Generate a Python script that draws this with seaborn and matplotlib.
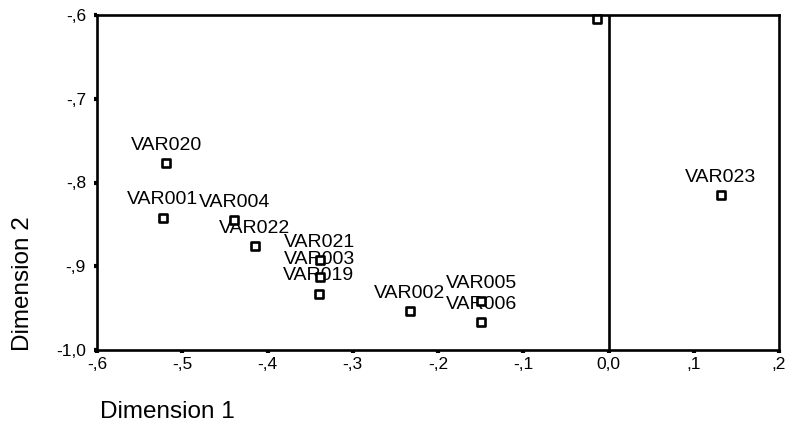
import matplotlib
matplotlib.use("Agg")
import matplotlib.pyplot as plt
import seaborn as sns
import pandas as pd
from matplotlib.ticker import FuncFormatter

# Object points in the two-dimensional solution
labels = ["VAR020", "VAR001", "VAR004", "VAR022", "VAR021", "VAR003", "VAR019",
          "VAR002", "VAR005", "VAR006", "VAR023", ""]
dim1 = [-0.519, -0.523, -0.439, -0.415, -0.339, -0.339, -0.340,
        -0.233, -0.149, -0.149, 0.1315, -0.013]
dim2 = [-0.777, -0.842, -0.845, -0.876, -0.893, -0.913, -0.933,
        -0.954, -0.942, -0.967, -0.815, -0.605]

x_ticks = [-0.6, -0.5, -0.4, -0.3, -0.2, -0.1, 0.0, 0.1, 0.2]
y_ticks = [-1.0, -0.9, -0.8, -0.7, -0.6]

df = pd.DataFrame({"label": labels, "Dimension 1": dim1, "Dimension 2": dim2})

sns.set_theme(style="white")
plt.rcParams["font.family"] = ["Liberation Sans", "DejaVu Sans"]

fig = plt.figure(figsize=(7.89, 4.43), dpi=100)
ax = fig.add_axes([97 / 789, 1 - 350 / 443, (779 - 97) / 789, (350 - 15) / 443])

# reference line through the origin of dimension 1
ax.axvline(0.0, color="black", linewidth=1.9, zorder=1)

sns.scatterplot(data=df, x="Dimension 1", y="Dimension 2", ax=ax,
                marker="s", s=40, facecolor="white", edgecolor="black",
                linewidth=1.9, zorder=3, clip_on=False)

for _, row in df.iterrows():
    if row["label"]:
        ax.annotate(row["label"], (row["Dimension 1"], row["Dimension 2"]),
                    xytext=(0, 13), textcoords="offset points",
                    ha="center", va="center", fontsize=14, color="black",
                    zorder=2)

ax.set_xlim(x_ticks[0], x_ticks[-1])
ax.set_ylim(y_ticks[0], y_ticks[-1])
ax.set_xticks(x_ticks)
ax.set_yticks(y_ticks)


def spss_fmt(v, pos=None):
    s = f"{v:.1f}".replace(".", ",")
    if abs(v) < 1e-9:
        return "0,0"
    if s.startswith("-0"):
        return "-" + s[2:]
    if s.startswith("0"):
        return s[1:]
    return s


ax.xaxis.set_major_formatter(FuncFormatter(spss_fmt))
ax.yaxis.set_major_formatter(FuncFormatter(spss_fmt))
ax.tick_params(axis="both", which="major", length=2, width=3, color="black",
               labelsize=12.5, labelcolor="black", direction="out")
ax.tick_params(axis="x", bottom=True, pad=3)
ax.tick_params(axis="y", left=True, pad=6)

for sp in ax.spines.values():
    sp.set_visible(True)
    sp.set_color("black")
    sp.set_linewidth(1.9)

ax.set_xlabel("")
ax.set_ylabel("")
fig.text(100 / 789, 1 - 412 / 443, "Dimension 1", ha="left", va="center",
         fontsize=17.5, color="black")
fig.text(23 / 789, 1 - 351 / 443, "Dimension 2", ha="center", va="bottom",
         rotation=90, fontsize=17.5, color="black")

fig.savefig("out.png", dpi=100, facecolor="white")
